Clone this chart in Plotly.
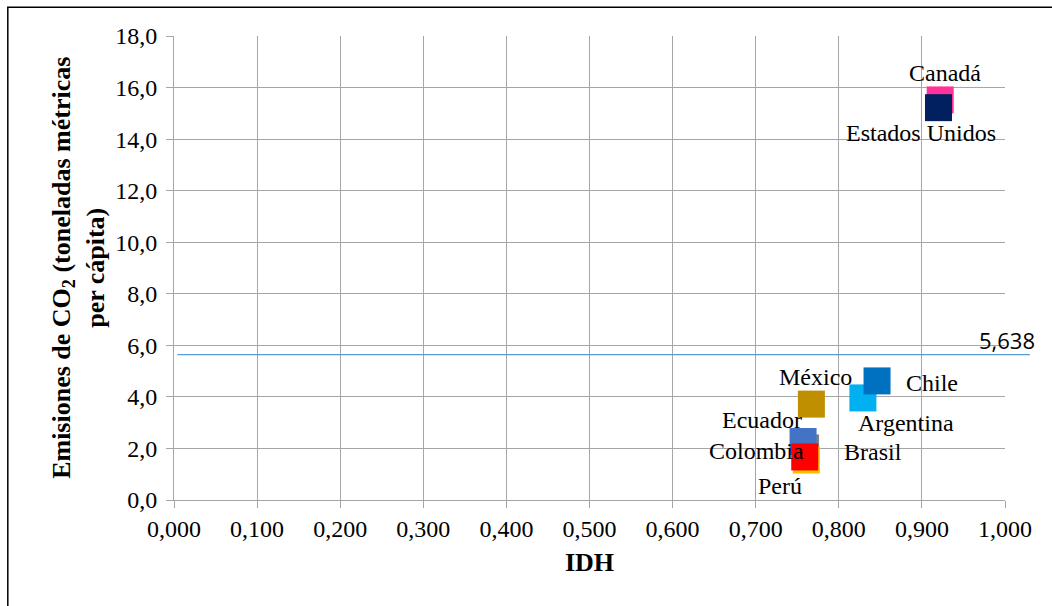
import plotly.graph_objects as go

# Countries: HDI (IDH) vs. CO2 emissions per capita
paises = ["Canadá", "Estados Unidos", "Argentina", "Chile", "México",
          "Brasil", "Colombia", "Ecuador", "Perú"]
idh = [0.922, 0.920, 0.829, 0.846, 0.767, 0.760, 0.761, 0.757, 0.759]
co2 = [15.52, 15.22, 3.96, 4.62, 3.72, 2.02, 1.55, 2.27, 1.67]
colores = ["#FF3399", "#002060", "#00B0F0", "#0070C0", "#BF8F00",
           "#7F7F7F", "#FFC000", "#4472C4", "#FF0000"]
# label offsets (px) from each marker
dx = [5, -18, 43, 55, 4, 67, -50, -41, -25]
dy = [27, -25, -25, -2, 27, -4, 9, 21, -29]

promedio = 5.638

SERIF = "Liberation Serif"
FS = 24
FT = 26

fig = go.Figure()
for p, x, y, c in zip(paises, idh, co2, colores):
    fig.add_trace(go.Scatter(
        x=[x], y=[y], mode="markers", name=p,
        marker=dict(symbol="square", size=27, color=c, line=dict(width=0)),
        cliponaxis=False, showlegend=False))

annotations = []
for p, x, y, ox, oy in zip(paises, idh, co2, dx, dy):
    annotations.append(dict(x=x, y=y, xref="x", yref="y", text=p,
                            showarrow=False, xshift=ox, yshift=oy,
                            font=dict(family=SERIF, size=FS, color="#000")))

# Y-axis title (two lines)
annotations.append(dict(x=-0.156, y=0.5, xref="paper", yref="paper",
                        text="<b>Emisiones de CO<sub>2</sub> (toneladas métricas<br>per cápita)</b>",
                        showarrow=False, textangle=-90,
                        font=dict(family=SERIF, size=FT, color="#000")))
# average line label
annotations.append(dict(x=1.038, y=promedio, xref="paper", yref="y",
                        text=f"{promedio:.3f}".replace(".", ","),
                        showarrow=False, xanchor="right", yanchor="bottom",
                        yshift=-2,
                        font=dict(family="Open Sans", size=22, color="#000")))

shapes = [
    # average line, extends beyond the plot area
    dict(type="line", xref="paper", yref="y", x0=0.004, x1=1.03,
         y0=promedio, y1=promedio, line=dict(color="#5B9BD5", width=1.2)),
    # outer frame
    dict(type="rect", xref="paper", yref="paper",
         x0=-0.2, x1=1.2, y0=-0.3, y1=1.062,
         line=dict(color="#000", width=1.5)),
]

fig.update_layout(
    width=1052, height=606,
    margin=dict(l=174, r=47, t=36, b=106),
    paper_bgcolor="white", plot_bgcolor="white",
    separators=",.",
    font=dict(family=SERIF, size=FS, color="#000"),
    annotations=annotations, shapes=shapes,
    xaxis=dict(range=[0, 1], dtick=0.1, tick0=0, tickformat=".3f",
               showgrid=True, gridcolor="#A6A6A6", gridwidth=1,
               showline=True, linecolor="#A6A6A6", linewidth=1,
               mirror=False, ticks="outside", ticklen=7, tickcolor="#A6A6A6",
               zeroline=False,
               tickfont=dict(family=SERIF, size=FS, color="#000"),
               title=dict(text="<b>IDH</b>", standoff=12,
                          font=dict(family=SERIF, size=FT, color="#000"))),
    yaxis=dict(range=[0, 18], dtick=2, tick0=0, tickformat=".1f",
               showgrid=True, gridcolor="#A6A6A6", gridwidth=1,
               showline=True, linecolor="#A6A6A6", linewidth=1,
               ticks="outside", ticklen=7, tickcolor="#A6A6A6",
               ticklabelstandoff=4, zeroline=False,
               tickfont=dict(family=SERIF, size=FS, color="#000")),
)

fig.write_html("out.html")
